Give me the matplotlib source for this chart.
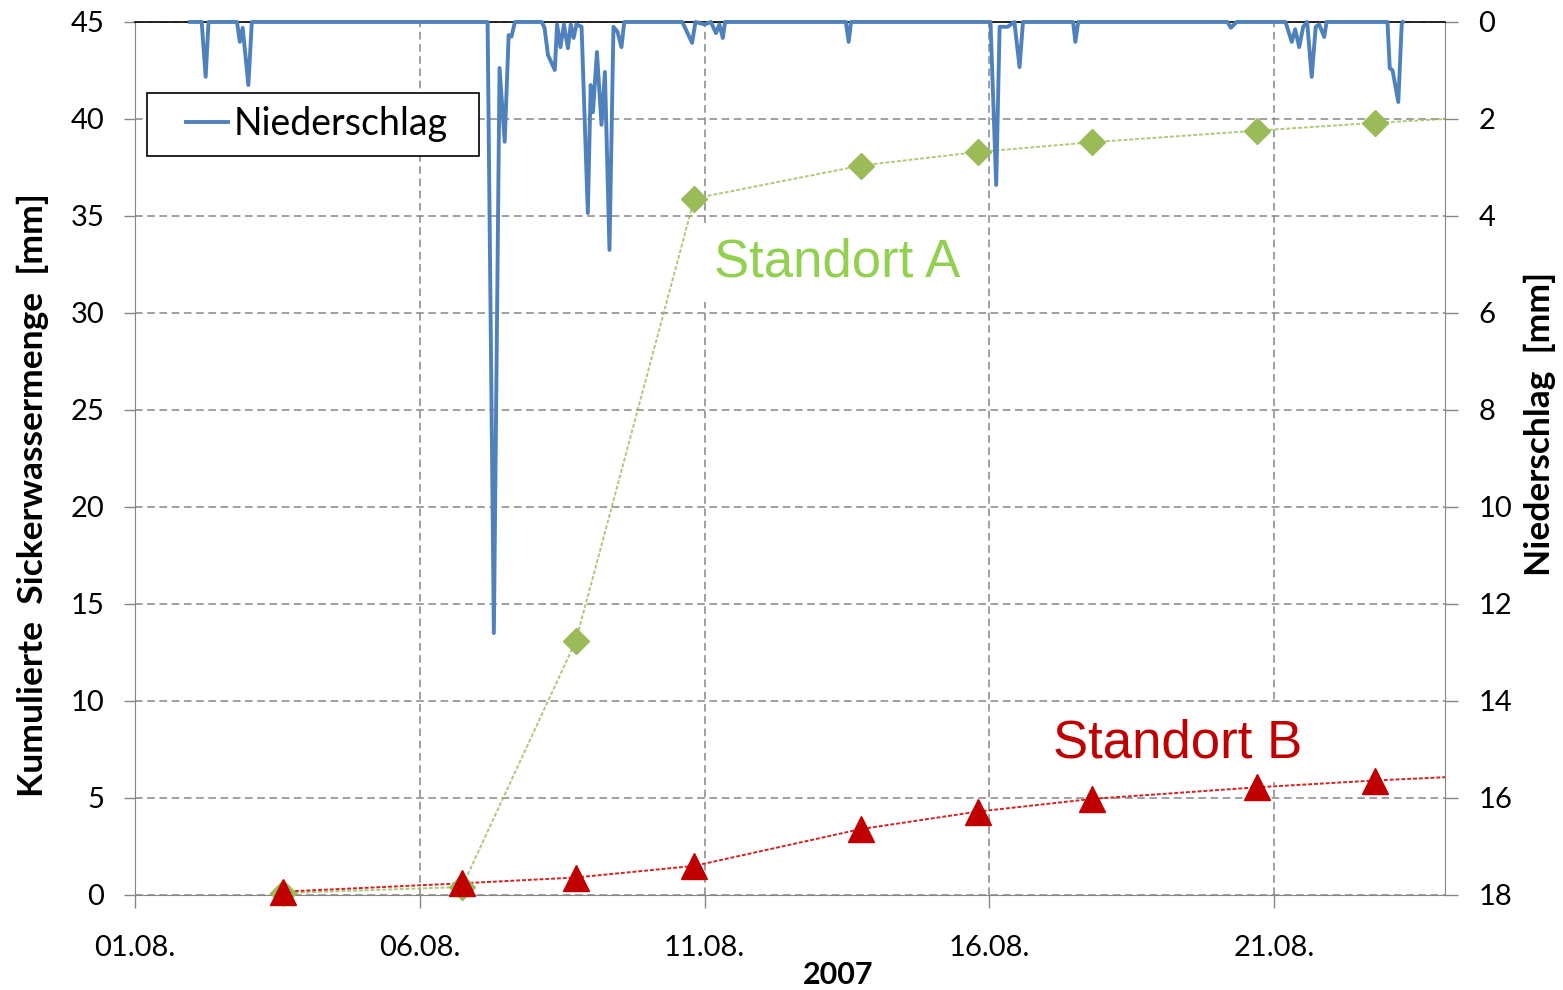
import matplotlib.pyplot as plt
from matplotlib.legend_handler import HandlerLine2D
from matplotlib.lines import Line2D

# Zeitachse in Tagen ab 01.08.2007 00:00
probe_tage = [2.6, 5.74, 7.74, 9.82, 12.75, 14.8, 16.8, 19.7, 21.77, 23.8]
standort_a = [0.1, 0.41, 13.1, 35.9, 37.6, 38.3, 38.8, 39.4, 39.8, 40.13]
standort_b = [0.17, 0.6, 0.9, 1.5, 3.4, 4.3, 4.95, 5.55, 5.9, 6.18]
n_sichtbar = 9  # letzter Termin liegt ausserhalb der Achse

# Niederschlag (Zeitpunkt in Tagen, Menge in mm)
regen_t = [0.965, 1.17, 1.24, 1.29, 1.79, 1.84, 1.89, 1.99, 2.05,
           6.19, 6.30, 6.40, 6.49, 6.56, 6.61, 6.67,
           7.14, 7.19, 7.25, 7.37, 7.41, 7.47, 7.53, 7.60, 7.65, 7.70, 7.75,
           7.84, 7.95, 8.00, 8.04, 8.11, 8.19, 8.25, 8.33, 8.40, 8.47, 8.54, 8.59,
           9.61, 9.78, 9.84, 10.0, 10.11, 10.2, 10.26, 10.32, 10.36,
           12.48, 12.53, 12.57,
           15.02, 15.12, 15.18, 15.32, 15.44, 15.53, 15.59,
           16.47, 16.51, 16.56,
           19.18, 19.24, 19.30, 19.34,
           20.2, 20.31, 20.37, 20.44, 20.51, 20.58, 20.66, 20.73, 20.79, 20.88, 20.92,
           21.99, 22.03, 22.08, 22.18, 22.24, 22.26]
regen_mm = [0, 0, 1.13, 0, 0, 0.41, 0.12, 1.3, 0,
            0, 12.6, 0.95, 2.47, 0.27, 0.3, 0,
            0, 0.12, 0.68, 0.99, 0.05, 0.52, 0.05, 0.54, 0.05, 0.33, 0.05,
            0.1, 3.94, 1.3, 1.86, 0.62, 2.12, 1.03, 4.7, 0.1, 0.2, 0.52, 0,
            0, 0.43, 0, 0.05, 0, 0.23, 0.05, 0.33, 0,
            0, 0.41, 0,
            0, 3.36, 0.1, 0.1, 0, 0.93, 0,
            0, 0.41, 0,
            0, 0.12, 0.05, 0,
            0, 0.41, 0.15, 0.52, 0.1, 0, 1.13, 0.1, 0.05, 0.31, 0,
            0, 0.95, 1.0, 1.65, 0.05, 0]

tick_tage = [0, 5, 10, 15, 20]
tick_labels = ['01.08.', '06.08.', '11.08.', '16.08.', '21.08.']

grau = '#868686'
plt.rcParams['font.family'] = ['Lato', 'DejaVu Sans']

fig = plt.figure(figsize=(15.63, 9.9), dpi=100)
ax = fig.add_axes([0.0864, 0.0960, 0.8381, 0.8818])
ax2 = ax.twinx()

ax.set_xlim(0, 23)
ax.set_ylim(0, 45)
ax.set_yticks(range(0, 46, 5))
ax.set_xticks(tick_tage)
ax.set_xticklabels(tick_labels)
ax.grid(True, color=grau, ls=(0, (5, 3)), lw=1.1)
ax.set_axisbelow(True)

# Sickerwasser
ax.plot(probe_tage, standort_a, color='#9BBB59', ls=(0, (2, 1)), lw=1.4, alpha=0.8)
ax.plot(probe_tage[:n_sichtbar], standort_a[:n_sichtbar], ls='none', marker='D',
        ms=13.5, color='#9BBB59', clip_on=False, zorder=3)
ax.plot(probe_tage, standort_b, color='#D42020', ls=(0, (2, 1)), lw=1.4)
ax.plot(probe_tage[:n_sichtbar], standort_b[:n_sichtbar], ls='none', marker='^',
        ms=19, color='#C00000', clip_on=False, zorder=4)

ax.text(12.32, 31.86, 'Standort A', family='Liberation Sans', fontsize=38,
        color='#92D050', ha='center', va='baseline', zorder=1,
        bbox=dict(boxstyle='square,pad=0.27', facecolor='white', edgecolor='none'))
ax.text(18.3, 7.11, 'Standort B', family='Liberation Sans', fontsize=38,
        color='#C00000', ha='center', va='baseline', zorder=1,
        bbox=dict(boxstyle='square,pad=0.27', facecolor='white', edgecolor='none'))

# Niederschlag, rechte Achse umgekehrt
ax2.plot(regen_t, regen_mm, color='#4F81BD', lw=2.8, clip_on=False, zorder=5,
         label='Niederschlag')
ax2.set_ylim(18, 0)
ax2.set_yticks(range(0, 19, 2))

for s in ['top', 'right']:
    ax.spines[s].set_visible(False)
for s in ['left', 'bottom']:
    ax.spines[s].set_color(grau)
    ax2.spines[s].set_visible(False)
ax2.spines['right'].set_color(grau)
ax2.spines['top'].set_color('black')
ax2.spines['top'].set_linewidth(1.2)

ax.tick_params(axis='y', direction='out', length=8, width=1, color=grau,
               labelsize=21, pad=14)
ax.tick_params(axis='x', direction='out', length=9, width=1, color=grau,
               labelsize=21, pad=20)
ax2.tick_params(axis='y', direction='out', length=9, width=1, color=grau,
                labelsize=21, pad=15)

leg = ax2.legend(loc='upper left', bbox_to_anchor=(0.0092, 0.9187, 0.2534, 0.0),
                 mode='expand', fontsize=27, frameon=True, fancybox=False,
                 edgecolor='black', framealpha=1, borderaxespad=0, borderpad=0.36,
                 handlelength=1.8, handletextpad=0.15,
                 handler_map={Line2D: HandlerLine2D(xpad=0.68)})
leg.get_frame().set_linewidth(1.2)

fig.text(33 / 1563, 1 - 495 / 990, 'Kumulierte  Sickerwassermenge  [mm]',
         rotation=90, ha='center', va='center', fontsize=25.5, fontweight='bold')
fig.text(1540 / 1563, 1 - 424 / 990, 'Niederschlag  [mm]',
         rotation=90, ha='center', va='center', fontsize=25.5, fontweight='bold')
fig.text(838 / 1563, 1 - 975 / 990, '2007', ha='center', va='center',
         fontsize=22, fontweight='bold')

fig.savefig('out.png', dpi=100)
